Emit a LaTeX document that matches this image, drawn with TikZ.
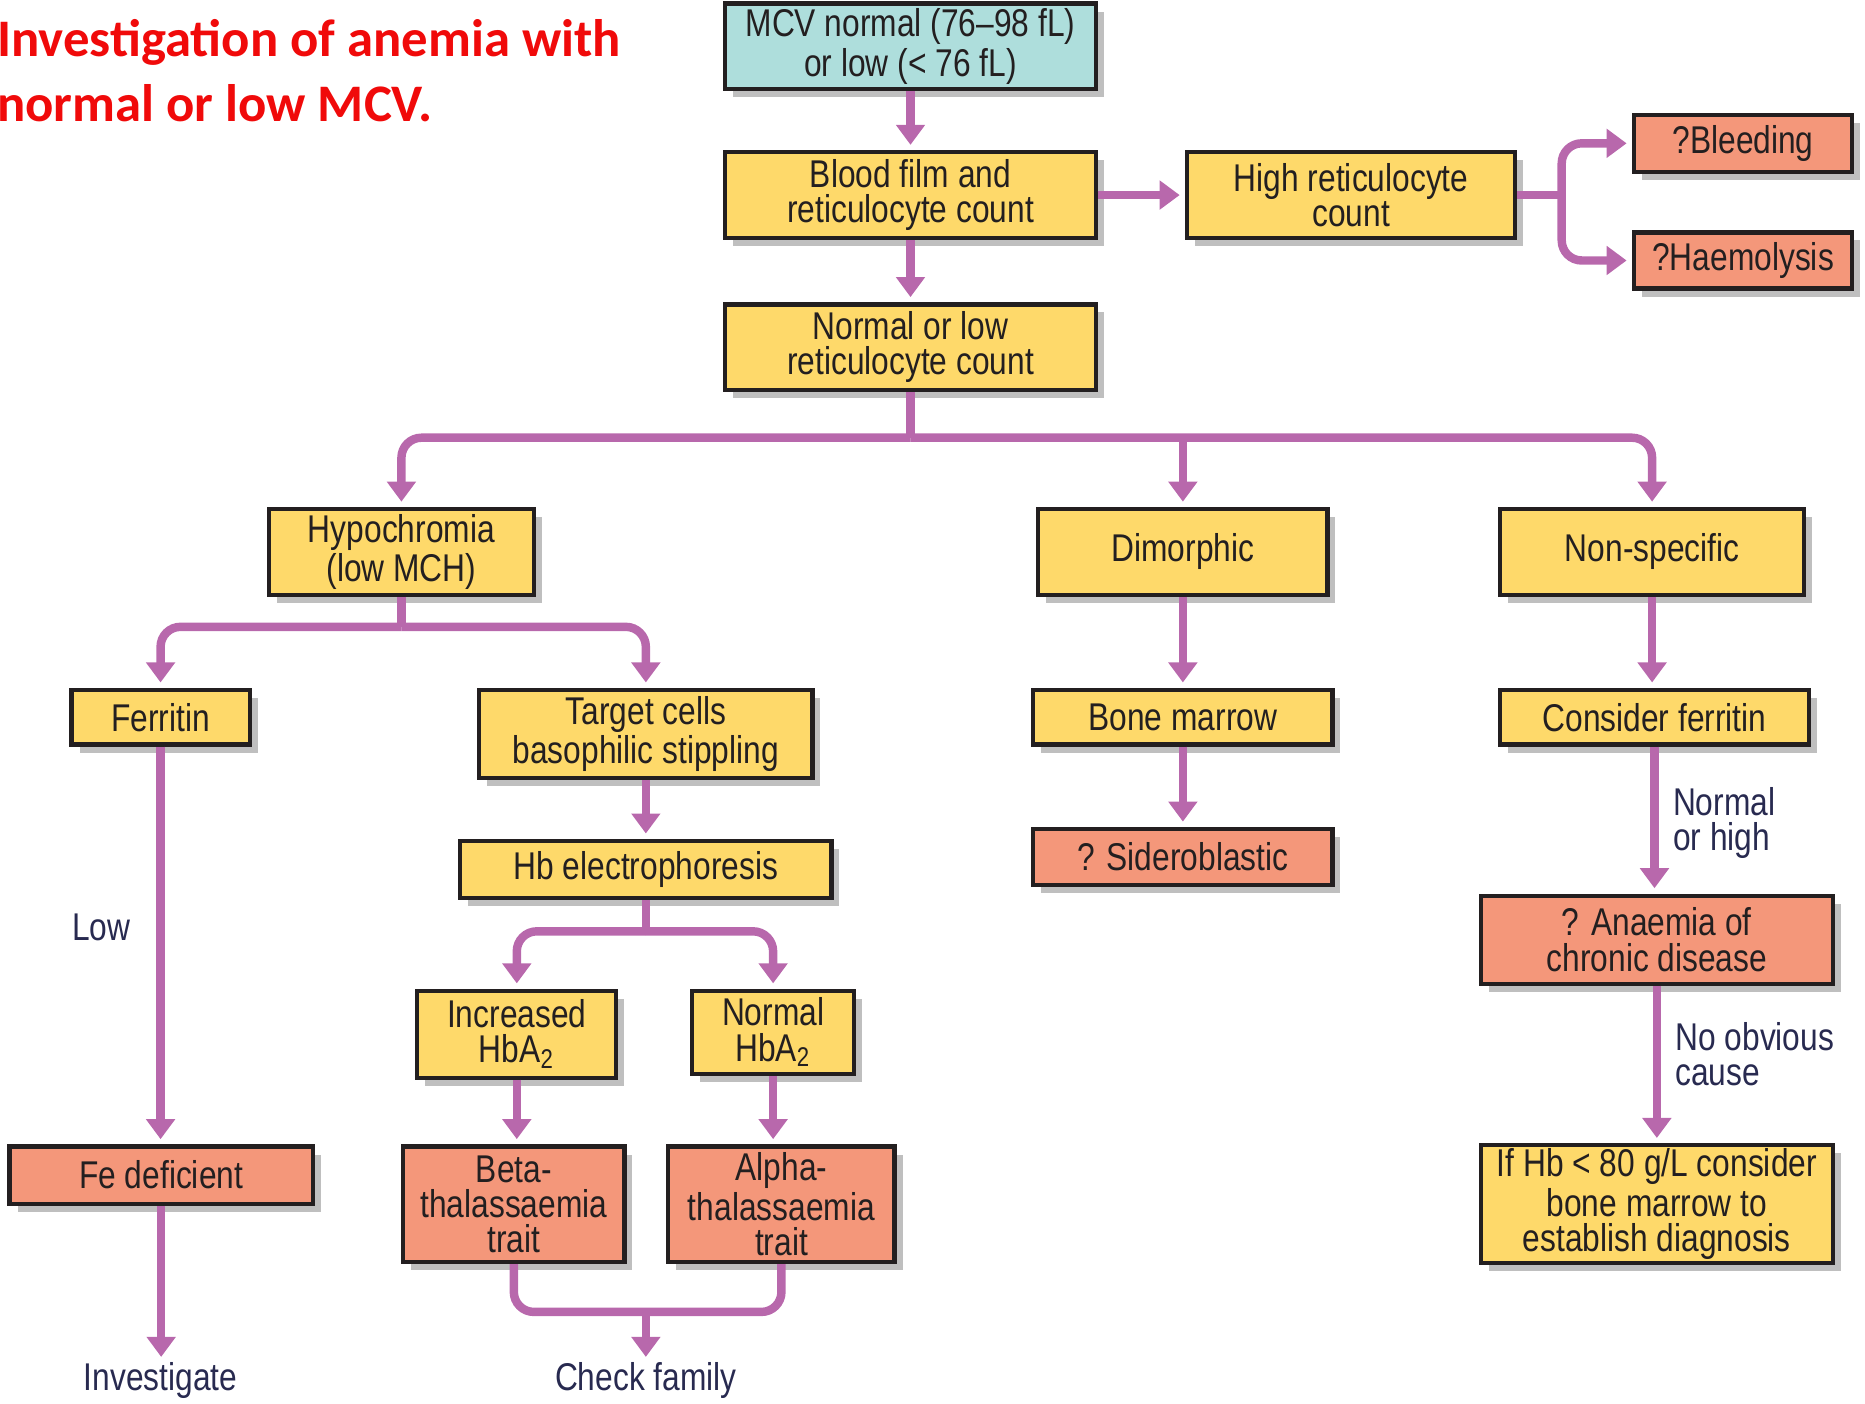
\documentclass[tikz,border=0pt]{standalone}
\usepackage{fontspec}
\setmainfont{Liberation Sans}
\newfontfamily\boxfont{Liberation Sans}[FakeStretch=0.82]
\newfontfamily\titlefont{Carlito}
\usetikzlibrary{arrows.meta, shadows}

\definecolor{boxcyan}{RGB}{174,222,220}
\definecolor{boxyellow}{RGB}{254,217,106}
\definecolor{boxsalmon}{RGB}{244,151,122}
\definecolor{linkpurple}{RGB}{184,104,172}
\definecolor{edgeblack}{RGB}{35,31,32}
\definecolor{lblblue}{RGB}{40,42,80}
\definecolor{titlered}{RGB}{240,10,10}

\begin{document}
\begin{tikzpicture}[x=0.011894cm, y=-0.011894cm, every node/.style={font=\boxfont\fontsize{11}{10}\selectfont, text=edgeblack}]
% unit = one pixel of the 1568 x 1180 layout

\tikzstyle{box}    = [draw=edgeblack, line width=1.2pt, rectangle, align=center, inner sep=1pt, drop shadow={shadow xshift=0.08cm, shadow yshift=-0.08cm, fill=black, opacity=0.25}] % define standard box
\tikzstyle{cbox}   = [box, fill=boxcyan]   % start box
\tikzstyle{ybox}   = [box, fill=boxyellow] % test / finding box
\tikzstyle{rbox}   = [box, fill=boxsalmon] % diagnosis box
\tikzstyle{line}   = [line width=2.4pt, color=linkpurple] % plain connector
\tikzstyle{arrow}  = [line, -{Triangle[width=0.28cm, length=0.2cm]}, shorten >=1.5pt] % define standard arrow
\tikzstyle{lbl}    = [text=lblblue, inner sep=0pt, align=left] % free text

\useasboundingbox (0,0) rectangle (1568,1180);

% title
\node(title)[anchor=north west, inner sep=0pt, align=left, text=titlered, font=\titlefont\bfseries\fontsize{15}{18.3}\selectfont] at (-3,16){Investigation of anemia with\\normal or low MCV.};

% main column
\node(mcv)[cbox, minimum width=3.70cm, minimum height=0.856cm] at (765.5,39){MCV normal (76–98 fL)\\or low (< 76 fL)};
\node(blood)[ybox, minimum width=3.70cm, minimum height=0.856cm] at (765.5,164){Blood film and\\reticulocyte count};
\node(nlr)[ybox, minimum width=3.70cm, minimum height=0.856cm] at (765.5,292){Normal or low\\reticulocyte count};

% high reticulocyte branch
\node(high)[ybox, minimum width=3.28cm, minimum height=0.856cm] at (1136,164){High reticulocyte\\count};
\node(bleed)[rbox, minimum width=2.18cm, minimum height=0.57cm] at (1465.5,120.5){?Bleeding};
\node(haem)[rbox, minimum width=2.18cm, minimum height=0.56cm] at (1465.5,219){?Haemolysis};

% second row
\node(hypo)[ybox, minimum width=2.65cm, minimum height=0.856cm] at (337.5,464){Hypochromia\\(low MCH)};
\node(dimo)[ybox, minimum width=2.89cm, minimum height=0.856cm] at (994.5,464){Dimorphic};
\node(nonspec)[ybox, minimum width=3.04cm, minimum height=0.856cm] at (1389,464){Non-specific};

% hypochromia branch
\node(ferr)[ybox, minimum width=1.78cm, minimum height=0.547cm] at (135,603){Ferritin};
\node(target)[ybox, minimum width=3.33cm, minimum height=0.88cm] at (543,617){Target cells\\basophilic stippling};
\node(hbe)[ybox, minimum width=3.71cm, minimum height=0.571cm] at (543,731){Hb electrophoresis};
\node(inca)[ybox, minimum width=1.99cm, minimum height=0.868cm] at (434.5,869.5){Increased\\HbA\textsubscript{2}};
\node(norma)[ybox, minimum width=1.62cm, minimum height=0.833cm] at (650,868){Normal\\HbA\textsubscript{2}};
\node(beta)[rbox, minimum width=2.21cm, minimum height=1.154cm] at (432,1012.5){Beta-\\thalassaemia\\trait};
\node(alpha)[rbox, minimum width=2.26cm, minimum height=1.154cm] at (657,1012.5){Alpha-\\thalassaemia\\trait};
\node(fedef)[rbox, minimum width=3.03cm, minimum height=0.571cm] at (135.5,988){Fe deficient};
\node(invest)[lbl] at (135,1161){Investigate};
\node(check)[lbl] at (543,1161){Check family};
\node(low)[lbl] at (85,780){Low};

% dimorphic branch
\node(bone)[ybox, minimum width=2.99cm, minimum height=0.547cm] at (994.5,603){Bone marrow};
\node(sidero)[rbox, minimum width=2.99cm, minimum height=0.559cm] at (994.5,720.5){? Sideroblastic};

% non-specific branch
\node(consf)[ybox, minimum width=3.09cm, minimum height=0.547cm] at (1391,603){Consider ferritin};
\node(acd)[rbox, minimum width=3.52cm, minimum height=0.88cm] at (1393,790){? Anaemia of\\chronic disease};
\node(ifhb)[ybox, minimum width=3.52cm, minimum height=1.154cm] at (1393,1012.5){If Hb < 80 g/L consider\\bone marrow to\\establish diagnosis};
\node(normhigh)[lbl, anchor=west] at (1406,692){Normal\\or high};
\node(noobv)[lbl, anchor=west] at (1408,886){No obvious\\cause};

% branching points
\coordinate(br1) at (1313,164);
\coordinate(bus1) at (765.5,368);
\coordinate(bus2) at (337.5,527);
\coordinate(bus3) at (543,783);
\coordinate(join) at (543,1103);

% arrows
\draw[arrow](mcv)--(blood);
\draw[arrow](blood)--(nlr);
\draw[arrow](blood)--(high);

\draw[line](high.east)--(br1);
\draw[arrow, rounded corners=0.2cm](br1)|-(bleed.west);
\draw[arrow, rounded corners=0.2cm](br1)|-(haem.west);

\draw[line](nlr.south)--(bus1);
\draw[arrow, rounded corners=0.2cm](bus1)-|(hypo.north);
\draw[arrow, rounded corners=0.2cm](bus1)-|(nonspec.north);
\draw[arrow](bus1 -| dimo.north)--(dimo.north);

\draw[line](hypo.south)--(bus2);
\draw[arrow, rounded corners=0.2cm](bus2)-|(ferr.north);
\draw[arrow, rounded corners=0.2cm](bus2)-|(target.north);

\draw[arrow](target)--(hbe);
\draw[line](hbe.south)--(bus3);
\draw[arrow, rounded corners=0.2cm](bus3)-|(inca.north);
\draw[arrow, rounded corners=0.2cm](bus3)-|(norma.north);
\draw[arrow](inca.south)--(inca.south |- beta.north);
\draw[arrow](norma.south)--(norma.south |- alpha.north);

\draw[line, rounded corners=0.2cm](beta.south)|-(join)-|(alpha.south);
\draw[arrow](join)--(check.north);

\draw[arrow](ferr.south)--(ferr.south |- fedef.north);
\draw[arrow](fedef.south)--(fedef.south |- invest.north);

\draw[arrow](dimo)--(bone);
\draw[arrow](bone)--(sidero);

\draw[arrow](nonspec)--(nonspec |- consf.north);
\draw[arrow](consf.south)--(consf.south |- acd.north);
\draw[arrow](acd.south)--(acd.south |- ifhb.north);
\end{tikzpicture}
\end{document}
